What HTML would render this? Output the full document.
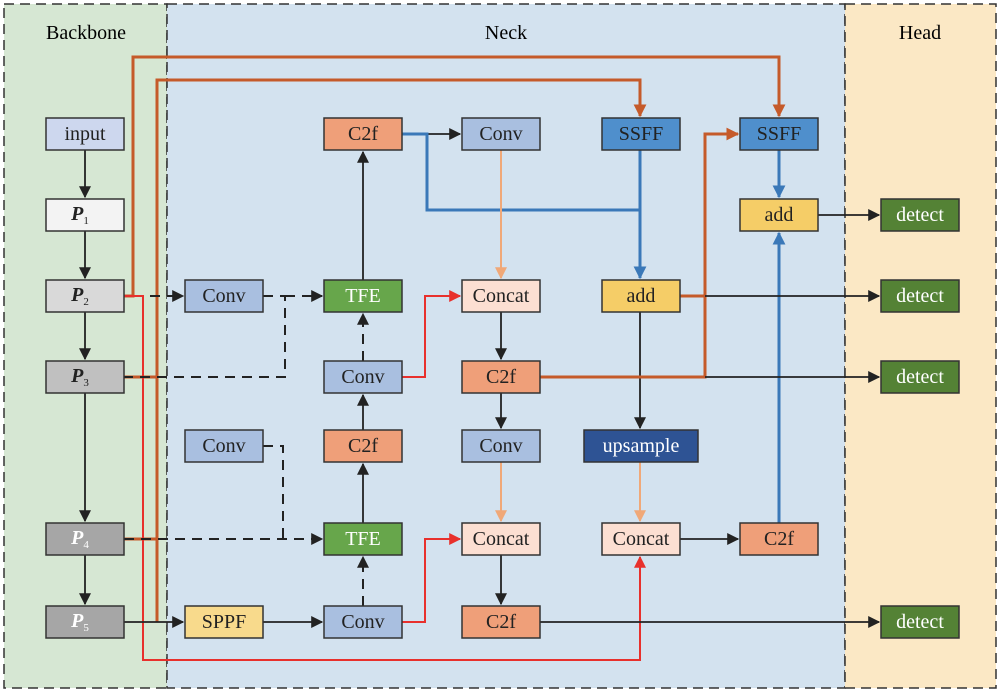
<!DOCTYPE html>
<html><head><meta charset="utf-8"><style>
html,body{margin:0;padding:0;background:#fff;}
text{font-family:"Liberation Serif",serif;font-size:20px;text-anchor:middle;dominant-baseline:central;}
</style></head><body>
<svg width="1000" height="693" viewBox="0 0 1000 693" xmlns="http://www.w3.org/2000/svg">
<defs>
<marker id="ak" viewBox="0 0 10 10" refX="9" refY="5" markerWidth="12" markerHeight="12" markerUnits="userSpaceOnUse" orient="auto"><path d="M0,0L10,5L0,10z" fill="#222"/></marker>
<marker id="ao" viewBox="0 0 10 10" refX="9" refY="5" markerWidth="13" markerHeight="13" markerUnits="userSpaceOnUse" orient="auto"><path d="M0,0L10,5L0,10z" fill="#c55a2a"/></marker>
<marker id="ar" viewBox="0 0 10 10" refX="9" refY="5" markerWidth="12" markerHeight="12" markerUnits="userSpaceOnUse" orient="auto"><path d="M0,0L10,5L0,10z" fill="#e8302c"/></marker>
<marker id="ab" viewBox="0 0 10 10" refX="9" refY="5" markerWidth="13" markerHeight="13" markerUnits="userSpaceOnUse" orient="auto"><path d="M0,0L10,5L0,10z" fill="#3a78b8"/></marker>
<marker id="al" viewBox="0 0 10 10" refX="9" refY="5" markerWidth="12" markerHeight="12" markerUnits="userSpaceOnUse" orient="auto"><path d="M0,0L10,5L0,10z" fill="#f0a878"/></marker>
</defs>
<rect x="4" y="4" width="163" height="684" fill="#d6e7d3" stroke="#333" stroke-width="1.5" stroke-dasharray="10,6"/>
<rect x="167" y="4" width="678" height="684" fill="#d3e2ef" stroke="#333" stroke-width="1.5" stroke-dasharray="10,6"/>
<rect x="845" y="4" width="151" height="684" fill="#fbe8c5" stroke="#333" stroke-width="1.5" stroke-dasharray="10,6"/>
<text x="86" y="33" font-size="19">Backbone</text>
<text x="506" y="33" font-size="19">Neck</text>
<text x="920" y="33" font-size="19">Head</text>

<g fill="none" stroke-width="1.8">
<path d="M85,150V197" stroke="#222" marker-end="url(#ak)"/>
<path d="M85,231V278" stroke="#222" marker-end="url(#ak)"/>
<path d="M85,312V359" stroke="#222" marker-end="url(#ak)"/>
<path d="M85,393V521" stroke="#222" marker-end="url(#ak)"/>
<path d="M85,555V604" stroke="#222" marker-end="url(#ak)"/>
<path d="M124,296H133V57H779V116" stroke="#c55a2a" stroke-width="3" marker-end="url(#ao)"/>
<path d="M124,377H157M124,539H157M157,622V80H640V116" stroke="#c55a2a" stroke-width="3" marker-end="url(#ao)"/>
<path d="M124,296H143V660H640V557" stroke="#e8302c" stroke-width="2" marker-end="url(#ar)"/>
<path d="M402,377H425V296H460" stroke="#e8302c" stroke-width="2" marker-end="url(#ar)"/>
<path d="M402,622H425V539H460" stroke="#e8302c" stroke-width="2" marker-end="url(#ar)"/>
<path d="M124,622H183" stroke="#222" marker-end="url(#ak)"/>
<path d="M263,622H322" stroke="#222" marker-end="url(#ak)"/>
<g stroke="#222" stroke-dasharray="10,7" stroke-width="2">
<path d="M150,296H183" marker-end="url(#ak)"/>
<path d="M263,296H285V377H124"/>
<path d="M285,296H322" marker-end="url(#ak)"/>
<path d="M263,446H283V539"/>
<path d="M124,539H322" marker-end="url(#ak)"/>
<path d="M363,361V314" marker-end="url(#ak)"/>
<path d="M363,606V557" marker-end="url(#ak)"/>
</g>
<path d="M363,280V152" stroke="#222" marker-end="url(#ak)"/>
<path d="M363,430V395" stroke="#222" marker-end="url(#ak)"/>
<path d="M363,523V464" stroke="#222" marker-end="url(#ak)"/>
<path d="M427,134H460" stroke="#222" marker-end="url(#ak)"/>
<path d="M402,134H427V210H640" stroke="#3a78b8" stroke-width="3"/>
<path d="M640,150V278" stroke="#3a78b8" stroke-width="3" marker-end="url(#ab)"/>
<path d="M779,150V197" stroke="#3a78b8" stroke-width="3" marker-end="url(#ab)"/>
<path d="M779,523V233" stroke="#3a78b8" stroke-width="3" marker-end="url(#ab)"/>
<path d="M501,150V278" stroke="#f0a878" stroke-width="2" marker-end="url(#al)"/>
<path d="M501,462V521" stroke="#f0a878" stroke-width="2" marker-end="url(#al)"/>
<path d="M640,462V521" stroke="#f0a878" stroke-width="2" marker-end="url(#al)"/>
<path d="M501,312V359" stroke="#222" marker-end="url(#ak)"/>
<path d="M501,393V428" stroke="#222" marker-end="url(#ak)"/>
<path d="M501,555V604" stroke="#222" marker-end="url(#ak)"/>
<path d="M640,312V428" stroke="#222" marker-end="url(#ak)"/>
<path d="M680,539H738" stroke="#222" marker-end="url(#ak)"/>
<path d="M540,377H705V134H738" stroke="#c55a2a" stroke-width="3" marker-end="url(#ao)"/>
<path d="M680,296H705" stroke="#c55a2a" stroke-width="3"/>
<path d="M818,215H879" stroke="#222" marker-end="url(#ak)"/>
<path d="M705,296H879" stroke="#222" marker-end="url(#ak)"/>
<path d="M705,377H879" stroke="#222" marker-end="url(#ak)"/>
<path d="M540,622H879" stroke="#222" marker-end="url(#ak)"/>
</g>

<g stroke="#333" stroke-width="1.5">
<rect x="46" y="118" width="78" height="32" fill="#cdd7ee"/>
<rect x="46" y="199" width="78" height="32" fill="#f3f3f3"/>
<rect x="46" y="280" width="78" height="32" fill="#d9d9d9"/>
<rect x="46" y="361" width="78" height="32" fill="#c0c0c0"/>
<rect x="46" y="523" width="78" height="32" fill="#a6a6a6"/>
<rect x="46" y="606" width="78" height="32" fill="#a6a6a6"/>
<rect x="185" y="280" width="78" height="32" fill="#a9bfe0"/>
<rect x="185" y="430" width="78" height="32" fill="#a9bfe0"/>
<rect x="185" y="606" width="78" height="32" fill="#f8da8c"/>
<rect x="324" y="118" width="78" height="32" fill="#ef9f79"/>
<rect x="324" y="280" width="78" height="32" fill="#67a64b"/>
<rect x="324" y="361" width="78" height="32" fill="#a9bfe0"/>
<rect x="324" y="430" width="78" height="32" fill="#ef9f79"/>
<rect x="324" y="523" width="78" height="32" fill="#67a64b"/>
<rect x="324" y="606" width="78" height="32" fill="#a9bfe0"/>
<rect x="462" y="118" width="78" height="32" fill="#a9bfe0"/>
<rect x="462" y="280" width="78" height="32" fill="#fcdfd2"/>
<rect x="462" y="361" width="78" height="32" fill="#ef9f79"/>
<rect x="462" y="430" width="78" height="32" fill="#a9bfe0"/>
<rect x="462" y="523" width="78" height="32" fill="#fcdfd2"/>
<rect x="462" y="606" width="78" height="32" fill="#ef9f79"/>
<rect x="602" y="118" width="78" height="32" fill="#4f8fcc"/>
<rect x="602" y="280" width="78" height="32" fill="#f5cd67"/>
<rect x="584" y="430" width="114" height="32" fill="#2e5394"/>
<rect x="602" y="523" width="78" height="32" fill="#fcdfd2"/>
<rect x="740" y="118" width="78" height="32" fill="#4f8fcc"/>
<rect x="740" y="199" width="78" height="32" fill="#f5cd67"/>
<rect x="740" y="523" width="78" height="32" fill="#ef9f79"/>
<rect x="881" y="199" width="78" height="32" fill="#548235"/>
<rect x="881" y="280" width="78" height="32" fill="#548235"/>
<rect x="881" y="361" width="78" height="32" fill="#548235"/>
<rect x="881" y="606" width="78" height="32" fill="#548235"/>
</g>

<g fill="#222">
<text x="85" y="134">input</text>
<text x="80" y="214" font-weight="bold" font-style="italic">P<tspan font-size="11" font-weight="normal" font-style="normal" dy="7">1</tspan></text>
<text x="80" y="295" font-weight="bold" font-style="italic">P<tspan font-size="11" font-weight="normal" font-style="normal" dy="7">2</tspan></text>
<text x="80" y="376" font-weight="bold" font-style="italic">P<tspan font-size="11" font-weight="normal" font-style="normal" dy="7">3</tspan></text>
<text x="80" y="538" font-weight="bold" font-style="italic" fill="#fff">P<tspan font-size="11" font-weight="normal" font-style="normal" dy="7">4</tspan></text>
<text x="80" y="621" font-weight="bold" font-style="italic" fill="#fff">P<tspan font-size="11" font-weight="normal" font-style="normal" dy="7">5</tspan></text>
<text x="224" y="296">Conv</text>
<text x="224" y="446">Conv</text>
<text x="224" y="622">SPPF</text>
<text x="363" y="134">C2f</text>
<text x="363" y="296" fill="#fff">TFE</text>
<text x="363" y="377">Conv</text>
<text x="363" y="446">C2f</text>
<text x="363" y="539" fill="#fff">TFE</text>
<text x="363" y="622">Conv</text>
<text x="501" y="134">Conv</text>
<text x="501" y="296">Concat</text>
<text x="501" y="377">C2f</text>
<text x="501" y="446">Conv</text>
<text x="501" y="539">Concat</text>
<text x="501" y="622">C2f</text>
<text x="641" y="134">SSFF</text>
<text x="641" y="296">add</text>
<text x="641" y="446" fill="#fff">upsample</text>
<text x="641" y="539">Concat</text>
<text x="779" y="134">SSFF</text>
<text x="779" y="215">add</text>
<text x="779" y="539">C2f</text>
<text x="920" y="215" fill="#fff">detect</text>
<text x="920" y="296" fill="#fff">detect</text>
<text x="920" y="377" fill="#fff">detect</text>
<text x="920" y="622" fill="#fff">detect</text>
</g>
</svg>
</body></html>
